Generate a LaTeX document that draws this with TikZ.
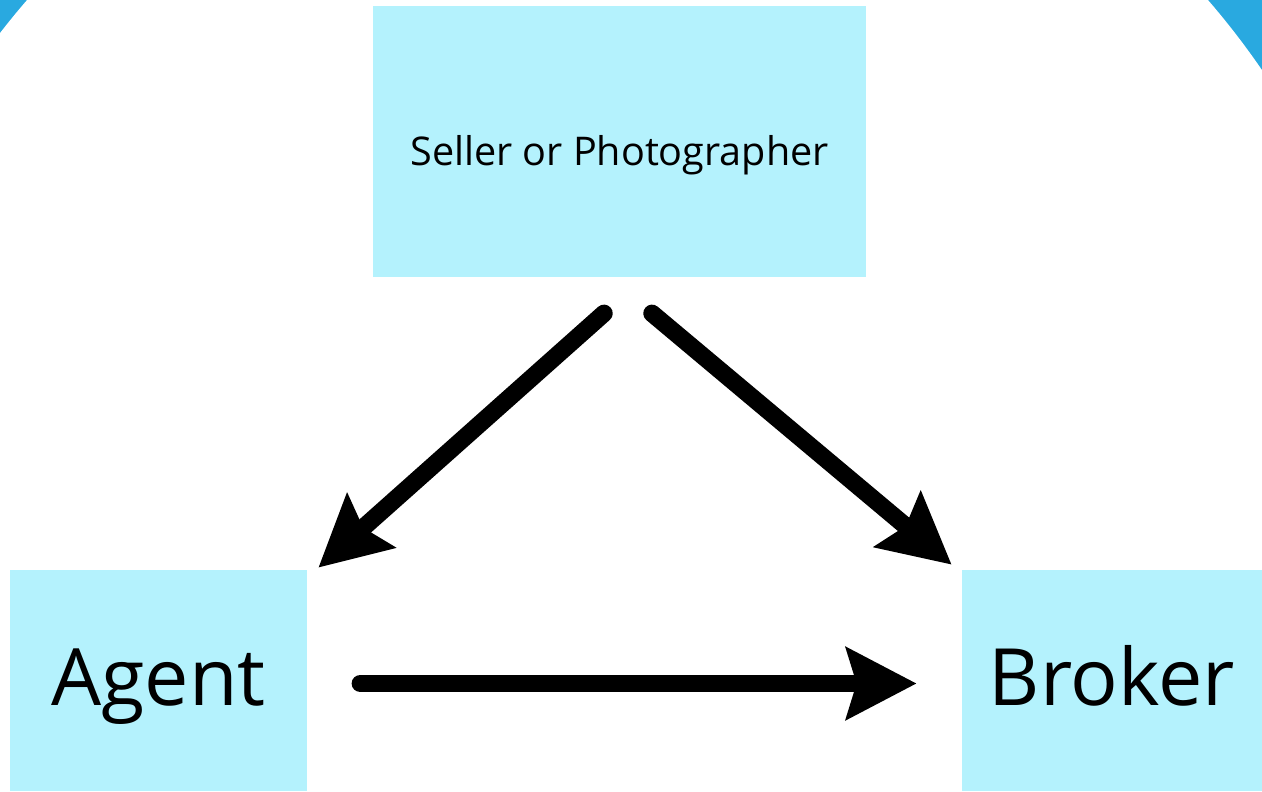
\documentclass[tikz,border=0pt]{standalone}
\usepackage{fontspec}
\setmainfont{Open Sans}
\usepackage{xcolor}
\usetikzlibrary{arrows.meta, positioning, calc}

\definecolor{boxcyan}{HTML}{B4F2FD}
\definecolor{cornerblue}{HTML}{29A9E0}

% text set on a baseline below the box centre
\newcommand{\boxtext}[3]{\raisebox{#1}[0pt][0pt]{\fontsize{#2}{#2}\selectfont #3}}

\tikzset{
  rolebox/.style={fill=boxcyan, inner sep=0pt, align=center},
  flow/.style={line width=0.35cm, line cap=round, -{Stealth[length=1.4cm, width=1.42cm, inset=0.2cm]}}
}

\begin{document}
\begin{tikzpicture}
\useasboundingbox (0,0) rectangle (25.24,-15.82);

% Blue corners
\begin{scope}
\clip (0,0) rectangle (25.24,-15.82);
\fill[cornerblue] (-1,1) rectangle (26.24,-16.82);
\fill[white] (12.35,-10.21) circle (15.61);
\end{scope}

% Boxes
\node[rolebox, minimum width=9.86cm, minimum height=5.42cm] (seller) at (12.39,-2.83)
  {\boxtext{-0.47cm}{22.5}{Seller or Photographer}};
\node[rolebox, minimum width=5.94cm, minimum height=4.42cm] (agent) at (3.17,-13.61)
  {\boxtext{-0.49cm}{45}{Agent}};
\node[rolebox, minimum width=6cm, minimum height=4.42cm] (broker) at (22.24,-13.61)
  {\boxtext{-0.49cm}{45}{Broker}};

% Arrows
\draw[flow] ([xshift=-0.31cm,yshift=-0.72cm]seller.south) -- ([xshift=0.22cm,yshift=0.04cm]agent.north east);
\draw[flow] ([xshift=0.65cm,yshift=-0.72cm]seller.south) -- ([xshift=-0.2cm,yshift=0.1cm]broker.north west);
\draw[flow] ([xshift=1.06cm,yshift=-0.06cm]agent.east) -- ([xshift=-0.9cm,yshift=-0.06cm]broker.west);
\end{tikzpicture}
\end{document}
